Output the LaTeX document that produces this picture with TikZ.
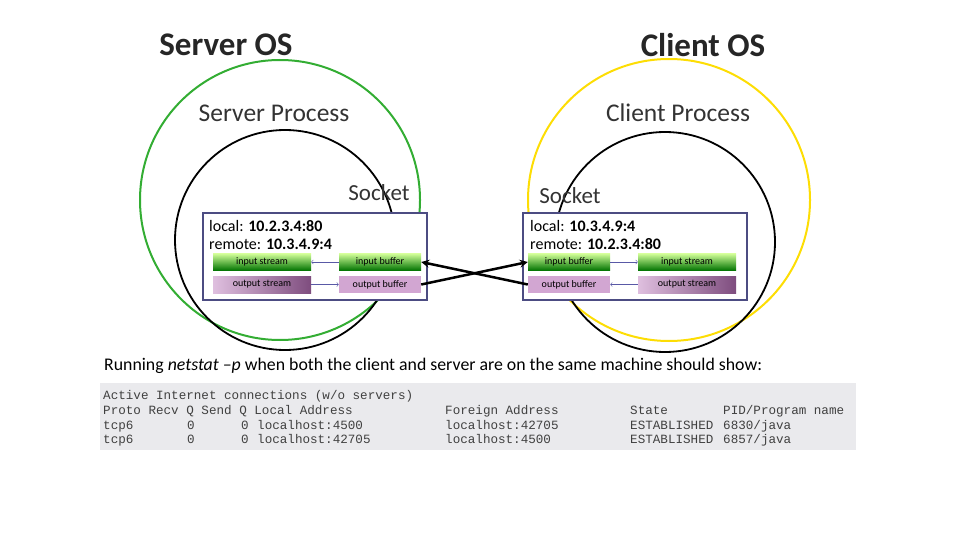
\documentclass[tikz,border=0pt]{standalone}
\usepackage{fontspec}
\setmainfont{Carlito}
\newfontfamily\monof{Liberation Mono}
\begin{document}
\begin{tikzpicture}[x=1pt,y=-1pt,
  title/.style={font=\fontsize{33}{34}\selectfont\bfseries,text=black!85},
  lbl/.style={font=\fontsize{25.5}{26}\selectfont,text=black!80},
  slbl/.style={font=\fontsize{23}{24}\selectfont,text=black!80},
  addr/.style={font=\fontsize{16}{17}\selectfont,anchor=west,inner sep=0},
  gbar/.style={draw=none,minimum height=17,inner sep=0,top color=green!25!lime!40!white,bottom color=green!45!black,font=\fontsize{10}{11}\selectfont},
  pbar/.style={draw=none,minimum height=17,inner sep=0,left color=violet!25,right color=violet!55!black!70,font=\fontsize{10}{11}\selectfont},
  pbar2/.style={draw=none,minimum height=17,inner sep=0,fill=violet!35,font=\fontsize{10}{11}\selectfont},
  sock/.style={draw=blue!30!black!70,line width=1.5,fill=white},
  thin/.style={draw=blue!30!gray,->,line width=0.6},
  big/.style={->,line width=2.5,>=stealth},
  mono/.style={font=\monof\fontsize{12.6}{13}\selectfont,anchor=base west,inner sep=0,text=black!75}]
\useasboundingbox (0,0) rectangle (960,540);
\node[title] (ts) at (226,45) {Server OS};
\node[title] (tc) at (703,45) {Client OS};
\draw[green!60!black!80,line width=2] (280,200) circle (140);
\draw[yellow!80!orange,line width=2] (669,200) circle (141);
\draw[line width=1.8] (285,240) circle (110);
\draw[line width=1.8] (665,242) circle (110);
\node[lbl] (sp) at (274,113) {Server Process};
\node[lbl] (cp) at (678,113) {Client Process};
\node[slbl] (ss) at (379,193) {Socket};
\node[slbl] (cs) at (570,196) {Socket};
\node[sock,minimum width=224,minimum height=87,inner sep=0] (sb) at (315,256.5) {};
\node[sock,minimum width=224,minimum height=87,inner sep=0] (cb) at (635,256.5) {};
\node[addr] (sl) at (209,226) {local: \textbf{10.2.3.4:80}};
\node[addr] (sr) at (209,244) {remote: \textbf{10.3.4.9:4}};
\node[addr] (cl) at (530,226) {local: \textbf{10.3.4.9:4}};
\node[addr] (cr) at (530,244) {remote: \textbf{10.2.3.4:80}};
\node[gbar,minimum width=98] (sis) at (262,262) {input stream};
\node[gbar,minimum width=82] (sib) at (380,262) {input buffer};
\node[pbar,minimum width=98] (sos) at (262,284.5) {output stream};
\node[pbar2,minimum width=82] (sob) at (380,284.5) {output buffer};
\node[gbar,minimum width=82] (cib) at (569,262) {input buffer};
\node[gbar,minimum width=98] (cis) at (687,262) {input stream};
\node[pbar2,minimum width=82] (cob) at (569,284.5) {output buffer};
\node[pbar,minimum width=98] (cos) at (687,284.5) {output stream};
\draw[thin] (sib) -- (sis);
\draw[thin] (sos) -- (sob);
\draw[thin] (cib) -- (cis);
\draw[thin] (cos) -- (cob);
\draw[big] (sob.east) -- (cib.west);
\draw[big] (cob.west) -- (sib.east);
\node[anchor=west,inner sep=0,font=\fontsize{17.8}{18}\selectfont] (run) at (104,366) {Running \textit{netstat –p} when both the client and server are on the same machine should show:};
\fill[blue!8!gray!15] (100,383) rectangle (856,450);
\node[mono] (l1) at (103,399) {Active Internet connections (w/o servers)};
\node[mono] (h1) at (103,414) {Proto Recv Q Send Q Local Address};
\node[mono] (h2) at (445,414) {Foreign Address};
\node[mono] (h3) at (630,414) {State};
\node[mono] (h4) at (723,414) {PID/Program name};
\foreach \y/\la/\fa/\pid [count=\i] in {429/4500/42705/6830,443/42705/4500/6857}{
  \node[mono] (a\i) at (103,\y) {tcp6};
  \node[mono] (b\i) at (187,\y) {0};
  \node[mono] (c\i) at (241,\y) {0};
  \node[mono] (d\i) at (257,\y) {localhost:\la};
  \node[mono] (e\i) at (445,\y) {localhost:\fa};
  \node[mono] (f\i) at (630,\y) {ESTABLISHED};
  \node[mono] (g\i) at (723,\y) {\pid/java};
}
\end{tikzpicture}
\end{document}
